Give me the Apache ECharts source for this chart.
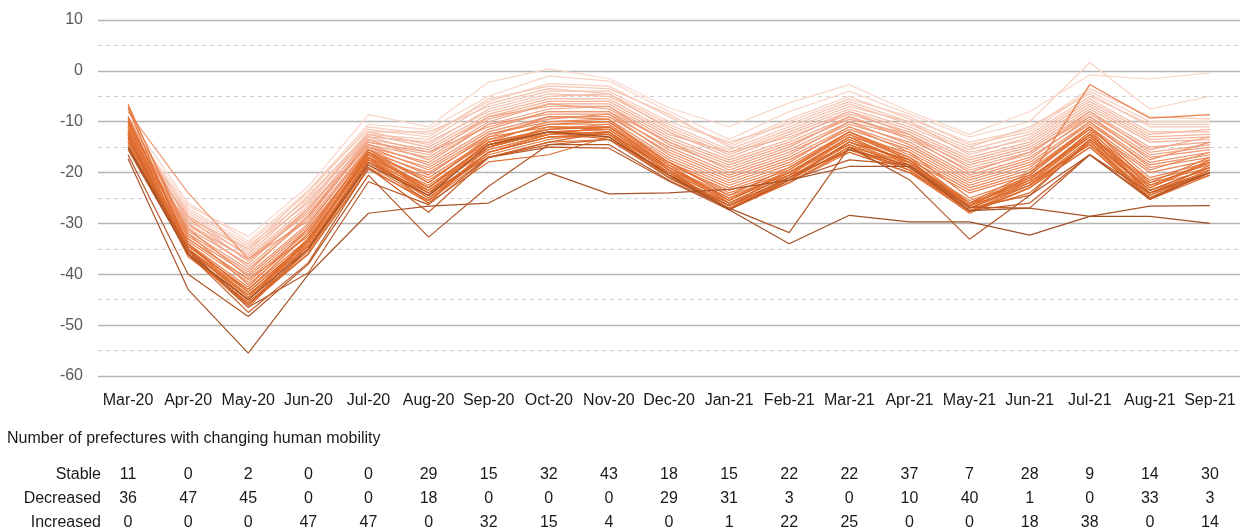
<!DOCTYPE html>
<html>
<head>
<meta charset="utf-8">
<script src="https://cdn.jsdelivr.net/npm/echarts@6/dist/echarts.min.js"></script>
<style>
  html, body { margin: 0; padding: 0; background: #fff; }
  #chart { width: 1240px; height: 531px; }
</style>
</head>
<body>
<div id="chart"></div>
<script>
const months = ['Mar-20', 'Apr-20', 'May-20', 'Jun-20', 'Jul-20', 'Aug-20', 'Sep-20', 'Oct-20', 'Nov-20', 'Dec-20',
  'Jan-21', 'Feb-21', 'Mar-21', 'Apr-21', 'May-21', 'Jun-21', 'Jul-21', 'Aug-21', 'Sep-21'];

// counts under the chart
const stable = [11, 0, 2, 0, 0, 29, 15, 32, 43, 18, 15, 22, 22, 37, 7, 28, 9, 14, 30];
const decreased = [36, 47, 45, 0, 0, 18, 0, 0, 0, 29, 31, 3, 0, 10, 40, 1, 0, 33, 3];
const increased = [0, 0, 0, 47, 47, 0, 32, 15, 4, 0, 1, 22, 25, 0, 0, 18, 38, 0, 14];

// mobility change (%) per prefecture, lightest line first
const prefectures = [
  [-10.5, -26.5, -32.6, -22.7, -8.6, -11, -2.2, 0.4, -1.5, -7.3, -11, -6.3, -2.7, -8, -12.5, -8, -0.8, -1.6, -0.4],
  [-9, -26, -33.5, -23.5, -10.5, -11.5, -5, -1, -2, -8, -13.5, -8, -4, -8.5, -13, -10, 1.6, -7.5, -5],
  [-11, -27, -34, -24, -11, -12.5, -6, -2.5, -3, -9, -14.5, -9.5, -5, -9.5, -14, -11.5, -3.5, -9, -9.5],
  [-10, -28, -35, -23.5, -11.5, -13, -5.5, -3, -3.5, -8.5, -15, -10, -5.5, -9, -14.5, -12, -4, -10, -10],
  [-12, -27.5, -34.5, -25, -12, -12, -7, -4, -4, -10, -14, -10.5, -6, -10, -15, -11, -4.5, -11, -11],
  [-9.5, -28.5, -35.5, -24.5, -12.5, -13.5, -6.5, -3.5, -4.5, -10.5, -15.5, -11, -6.5, -10.5, -15.5, -12.5, -5, -10.5, -10.5],
  [-11.5, -29, -35, -26, -12, -14.5, -7.5, -4.5, -5, -11, -16, -11.5, -7, -10, -16.5, -13, -5.5, -12, -12],
  [-10.5, -29.5, -36, -25.5, -13, -14, -8, -5, -4.5, -11.5, -16.5, -12, -7.5, -11, -16, -13.5, -6, -12.5, -11.5],
  [-12.5, -28.5, -36.5, -26.5, -12.5, -15, -8.5, -5.5, -5.5, -12, -17, -12.5, -8, -11.5, -17, -14, -6.5, -13, -12.5],
  [-9, -30, -37, -27, -13.5, -15.5, -9, -6, -6, -12.5, -16, -13, -8.5, -12, -17.5, -14.5, -7, -13.5, -13],
  [-11, -29, -37.5, -27.5, -13, -16, -9.5, -6.5, -6.5, -13, -17.5, -13.5, -8, -12.5, -18, -15, -7.5, -14, -13.5],
  [-12, -30.5, -37, -28, -14, -16.5, -9, -7, -7, -13.5, -18, -14, -9, -13, -18.5, -15.5, -8, -15, -14],
  [-10, -31, -38, -27, -14.5, -17, -10, -6.5, -7.5, -14, -18.5, -14.5, -9.5, -12.5, -19, -16, -8.5, -15.5, -13],
  [-13, -30, -38.5, -28.5, -13.5, -17.5, -10.5, -7.5, -7, -14.5, -19, -15, -9, -13.5, -19.5, -16.5, -8, -16, -14.5],
  [-11.5, -31.5, -39, -29, -14, -16, -11, -8, -8, -14, -19.5, -15.5, -10, -13, -20, -16, -9, -16.5, -15],
  [-8, -24, -37, -29.5, -15, -18, -10.5, -8.5, -8.5, -15, -20, -16, -10.5, -14, -20.5, -17, -9.5, -17, -15.5],
  [-12.5, -32, -39.5, -28.5, -14.5, -18.5, -11.5, -8, -8, -15.5, -20.5, -16.5, -10, -14.5, -21, -17.5, -9, -17.5, -14],
  [-10, -32.5, -40, -30, -15.5, -19, -12, -9, -9, -16, -21, -17, -11, -15, -21.5, -18, -10, -18, -16],
  [-13.5, -31, -40.5, -30.5, -15, -19.5, -12.5, -9.5, -8.5, -16.5, -21.5, -17.5, -11.5, -15.5, -22, -18.5, -10.5, -18.5, -16.5],
  [-11, -33, -41, -31, -16, -20, -13, -9, -9.5, -17, -22, -18, -11, -16, -22.5, -19, -10, -19, -17],
  [-12, -33.5, -41.5, -31.5, -15.5, -20.5, -12.5, -10, -10, -17.5, -22.5, -18.5, -12, -16.5, -23, -19.5, -11, -19.5, -16],
  [-7, -32, -42, -32, -16.5, -21, -13.5, -10.5, -10.5, -18, -23, -19, -12.5, -17, -23.5, -20, -11.5, -20, -17.5],
  [-12.5, -34, -42.5, -31, -16, -21.5, -14, -10, -9.5, -18.5, -23.5, -19.5, -12, -17.5, -24, -20.5, -11, -21, -18],
  [-6.5, -33, -41, -32.5, -16, -22, -13, -11, -11, -18, -24, -20, -13, -16, -25, -21, -2.7, -9.3, -8.6],
  [-13, -34.5, -43, -33, -17, -22.5, -14.5, -11.5, -10.5, -19, -24.5, -20.5, -13.5, -18, -25.5, -21.5, -12, -21.5, -18.5],
  [-11, -35, -43.5, -33.5, -16.5, -23, -15, -12, -11.5, -19.5, -25, -21, -14, -18.5, -26, -22, -12.5, -22, -19],
  [-14, -35.5, -44, -34, -17.5, -23.5, -15.5, -12.5, -12, -20, -25.5, -20, -14.5, -19, -26.5, -21, -13, -22.5, -19.5],
  [-9, -34, -44.5, -33, -17, -24, -14, -12, -12.5, -19, -26, -21.5, -15, -18, -27, -22.5, -13.5, -23, -18],
  [-12, -36, -45, -34.5, -18, -24.5, -16, -13, -13, -20.5, -26.5, -22, -15.5, -19.5, -27.5, -23, -14, -23.5, -20],
  [-7.3, -35, -44, -35, -17.5, -25, -16.5, -13.5, -12, -21, -27, -21, -14, -19, -26, -22, -14.5, -24, -20.5],
  [-13.5, -36.5, -45.5, -35.5, -18.5, -25.5, -17, -14, -13.5, -20, -27.3, -22, -16, -20, -27.8, -23, -15, -25, -19.5],
  [-10, -35.5, -46, -34, -16, -24, -15, -11, -11.5, -19.5, -26, -20.5, -13, -18.5, -27, -21.5, -12, -24.5, -18.5],
  [-12.5, -36, -45, -33.5, -17, -23, -14.5, -12.5, -11, -18.5, -25.5, -19.5, -12.5, -17.5, -26.5, -20.5, -11.5, -23, -17.5],
  [-11.5, -34.5, -43, -32, -15.5, -22, -13.5, -10.5, -10, -18, -24.5, -19, -12, -17, -26, -20, -11, -22, -17],
  [-14.5, -36, -46.5, -35, -18, -25, -16, -13, -12.5, -20.5, -27, -21.5, -15, -19.5, -27.5, -22.5, -14, -25, -20],
  [-10.5, -35, -44.5, -33, -16.5, -23.5, -15, -12, -11.5, -19, -25, -20, -13.5, -18, -26.5, -21, -12.5, -23.5, -19],
  [-13, -36.5, -45.5, -36, -19, -26, -17.9, -16.5, -13, -21, -27, -22, -15.5, -19.5, -28, -23, -15, -25.3, -20.5],
  [-12, -35.5, -44, -34.5, -17.5, -24.5, -16, -12.5, -12, -20, -26.5, -21, -14.5, -19, -27, -22, -13, -24, -19.5],
  [-9.5, -34, -43.5, -33.5, -16, -23, -14, -11.5, -11, -19, -25.5, -20, -13, -18, -26, -21.5, -12.5, -22.5, -18],
  [-14, -35, -45, -33, -17, -26, -15, -12, -13.5, -20, -27.3, -21, -15.5, -19, -27.5, -24, -14, -24.5, -20],
  [-15, -36, -46, -36, -19.4, -25.5, -16, -13, -12.5, -20.5, -26, -20.5, -16, -20, -26.5, -22.5, -14.5, -25, -20],
  [-13, -35.5, -46, -35, -18, -24, -17, -14, -12, -19.5, -27.3, -21.5, -14, -17.5, -27, -24.5, -13.5, -23.5, -19],
  [-15.5, -36, -47.5, -37.7, -19, -27.8, -17, -14.5, -13.5, -21, -26.5, -21, -15.5, -18.5, -27.5, -26, -16.5, -25.3, -20],
  [-15, -35, -46.5, -39.7, -21.8, -26.3, -17, -15, -15.2, -21.7, -27.3, -21.5, -17.5, -18.5, -26.8, -27, -16.5, -24, -20],
  [-16.5, -40, -48.3, -38, -20.5, -32.7, -22.7, -14.5, -14.5, -21.5, -27, -31.8, -15, -21.4, -33.1, -24.5, -16.5, -25, -20],
  [-17.3, -43, -55.5, -40, -28, -26.6, -26, -20, -24.2, -24, -23.3, -21.5, -18.8, -18.8, -27.5, -27, -28.6, -26.6, -26.5],
  [-15, -36, -45, -35, -18.5, -24.5, -14.5, -12, -13, -20.5, -27.3, -34, -28.4, -29.7, -29.7, -32.3, -28.6, -28.6, -30]
];

// light pink -> orange -> brown
const colorStops = [
  [0, [249, 214, 200]],
  [0.2, [243, 176, 150]],
  [0.4, [236, 140, 96]],
  [0.58, [230, 118, 58]],
  [0.86, [220, 106, 44]],
  [0.93, [190, 90, 40]],
  [1, [160, 80, 38]]
];

function lineColor(t) {
  for (let i = 1; i < colorStops.length; i++) {
    const [t1, c1] = colorStops[i];
    const [t0, c0] = colorStops[i - 1];
    if (t <= t1) {
      const k = (t - t0) / (t1 - t0);
      const c = c0.map((v, j) => Math.round(v + (c1[j] - v) * k));
      return `rgb(${c.join(',')})`;
    }
  }
  return 'rgb(160,80,38)';
}

const FONT = 'Liberation Sans, Arial, sans-serif';
const GRID_BOTTOM = 377;

function tableAxis(name, values, offset) {
  return {
    type: 'category',
    position: 'bottom',
    offset: offset,
    data: values.map(String),
    name: name,
    nameLocation: 'start',
    nameGap: -3,
    nameTextStyle: { fontFamily: FONT, fontSize: 16, color: '#1a1a1a', verticalAlign: 'middle', align: 'right' },
    axisLine: { show: false },
    axisTick: { show: false },
    splitLine: { show: false },
    axisLabel: {
      interval: 0, margin: 0, verticalAlign: 'middle',
      fontFamily: FONT, fontSize: 16, color: '#1a1a1a'
    }
  };
}

const chart = echarts.init(document.getElementById('chart'), null, { renderer: 'canvas' });

chart.setOption({
  animation: false,
  backgroundColor: '#fff',
  title: {
    text: 'Number of prefectures with changing human mobility',
    left: 0,
    top: 431,
    padding: [0, 0, 0, 7],
    textStyle: { fontFamily: FONT, fontSize: 16, fontWeight: 'normal', color: '#1a1a1a' }
  },
  grid: { left: 98, right: 0, top: 20, bottom: 531 - GRID_BOTTOM },
  xAxis: [
    {
      type: 'category',
      data: months,
      boundaryGap: true,
      axisLine: { show: false },
      axisTick: { show: false },
      axisLabel: { interval: 0, margin: 17, fontFamily: FONT, fontSize: 16, color: '#1a1a1a' }
    },
    tableAxis('Stable', stable, 476 - GRID_BOTTOM),
    tableAxis('Decreased', decreased, 500 - GRID_BOTTOM),
    tableAxis('Increased', increased, 524 - GRID_BOTTOM)
  ],
  yAxis: {
    type: 'value',
    min: -60,
    max: 10,
    interval: 10,
    axisLine: { show: false },
    axisTick: { show: false },
    axisLabel: { margin: 15, fontFamily: FONT, fontSize: 16, color: '#595959' },
    splitLine: { lineStyle: { color: '#b4b4b4', width: 1.3 } },
    minorTick: { show: false, splitNumber: 2 },
    minorSplitLine: { show: true, lineStyle: { color: '#cfcfcf', width: 1, type: [4, 4] } }
  },
  series: prefectures.map((vals, i) => ({
    type: 'line',
    xAxisIndex: 0,
    data: vals,
    symbol: 'none',
    silent: true,
    lineStyle: { width: 1.2, color: lineColor(i / (prefectures.length - 1)) }
  }))
});
</script>
</body>
</html>
